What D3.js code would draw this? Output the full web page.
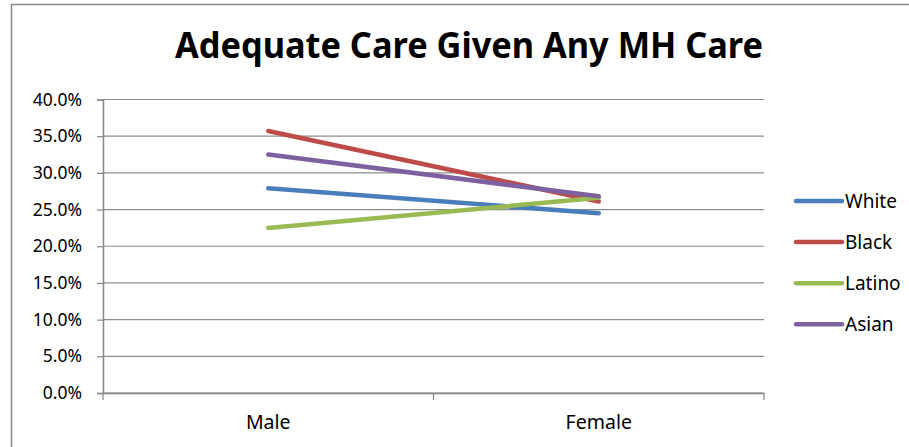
<!DOCTYPE html>
<html>
<head>
<meta charset="utf-8">
<script src="https://cdn.jsdelivr.net/npm/d3@7"></script>
<style>
  body { margin: 0; background: #fff; }
  text { font-family: 'Noto Sans', sans-serif; fill: #000; }
</style>
</head>
<body>
<div class="container"></div>
<script>
// Data
const categories = ['Male', 'Female'];
const seriesNames = ['White', 'Black', 'Latino', 'Asian'];
const white = [0.279, 0.245];
const black = [0.357, 0.261];
const latino = [0.225, 0.266];
const asian = [0.325, 0.268];
const yTicks = [0, 0.05, 0.10, 0.15, 0.20, 0.25, 0.30, 0.35, 0.40];

const seriesValues = [white, black, latino, asian];
const colors = ['#4A7EBB', '#BE4B48', '#98B954', '#7D60A0'];

const width = 909;
const height = 447;

let svg = d3.select('.container')
  .append('svg')
  .attr('width', width)
  .attr('height', height);

// Chart area border (top and left visible)
svg.append('path')
  .attr('d', 'M11.5,' + height + 'V4.5H' + width)
  .attr('fill', 'none')
  .attr('stroke', '#8a8a8a')
  .attr('stroke-width', 1.5);

// Title
svg.append('text')
  .text('Adequate Care Given Any MH Care')
  .attr('x', 175)
  .attr('y', 58)
  .attr('textLength', 588)
  .attr('lengthAdjust', 'spacingAndGlyphs')
  .style('font-size', '35px')
  .style('font-weight', 'bold');

// Scales
const xScale = d3.scaleBand()
  .domain(categories)
  .range([103, 764]);

const yScale = d3.scaleLinear()
  .domain([0, 0.4])
  .range([393, 99.5]);

// Gridlines
svg.append('g')
  .selectAll('line')
  .data(yTicks)
  .enter()
  .append('line')
  .attr('x1', 103)
  .attr('x2', 764)
  .attr('y1', d => yScale(d))
  .attr('y2', d => yScale(d))
  .attr('stroke', '#8c8c8c')
  .attr('stroke-width', 1.2);

// y axis
let yAxis = d3.axisLeft(yScale)
  .tickValues(yTicks)
  .tickFormat(d3.format('.1%'))
  .tickSize(6)
  .tickPadding(15);

svg.append('g')
  .attr('transform', 'translate(103,0)')
  .call(yAxis)
  .call(g => g.select('.domain').attr('stroke', '#868686').attr('stroke-width', 1.5))
  .call(g => g.selectAll('.tick line').attr('stroke', '#868686').attr('stroke-width', 1.2))
  .call(g => g.selectAll('.tick text').style('font-size', '17.5px').attr('fill', '#000'));

// x axis, ticks sit between the categories
svg.append('g')
  .attr('transform', 'translate(0,393)')
  .call(d3.axisBottom(xScale).tickSize(0).tickPadding(22))
  .call(g => g.select('.domain').attr('stroke', '#868686').attr('stroke-width', 1.5))
  .call(g => g.selectAll('.tick text').style('font-size', '19.5px').attr('fill', '#000'));

const xBounds = [103, 103 + xScale.bandwidth(), 764];
svg.append('g')
  .selectAll('line')
  .data(xBounds)
  .enter()
  .append('line')
  .attr('x1', d => d)
  .attr('x2', d => d)
  .attr('y1', 393)
  .attr('y2', 400)
  .attr('stroke', '#868686')
  .attr('stroke-width', 1.2);

// Lines
const line = d3.line()
  .x((d, i) => xScale(categories[i]) + xScale.bandwidth() / 2)
  .y(d => yScale(d));

svg.append('g')
  .selectAll('path')
  .data(seriesValues)
  .enter()
  .append('path')
  .attr('d', d => line(d))
  .attr('fill', 'none')
  .attr('stroke', (d, i) => colors[i])
  .attr('stroke-width', 4.5)
  .attr('stroke-linecap', 'round');

// Legend
let legend = svg.append('g')
  .selectAll('g')
  .data(seriesNames)
  .enter()
  .append('g')
  .attr('transform', (d, i) => 'translate(796,' + (201 + i * 41.1) + ')');

legend.append('line')
  .attr('x1', 0)
  .attr('x2', 46)
  .attr('stroke', (d, i) => colors[i])
  .attr('stroke-width', 4.5)
  .attr('stroke-linecap', 'round');

legend.append('text')
  .text(d => d)
  .attr('x', 49)
  .attr('y', 6.5)
  .style('font-size', '19px');
</script>
</body>
</html>
